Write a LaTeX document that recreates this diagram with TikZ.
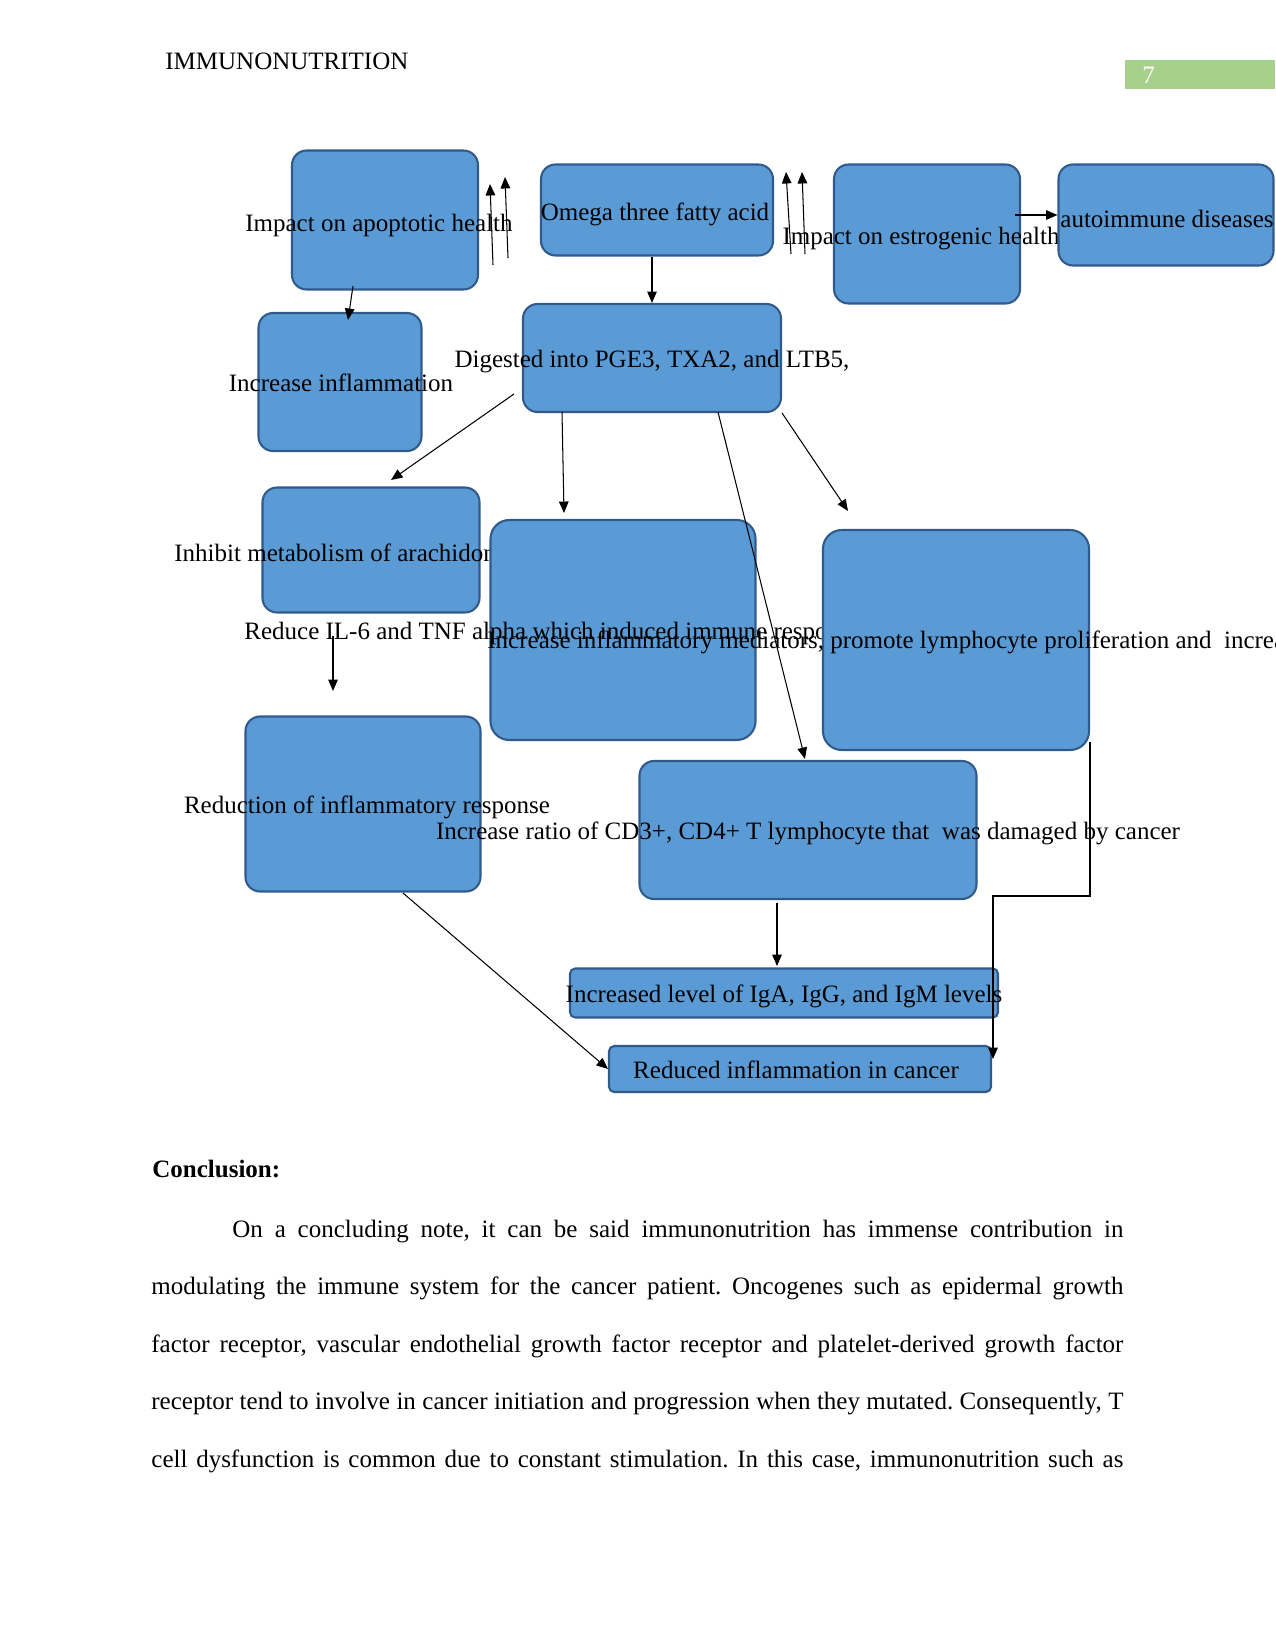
\documentclass[tikz,border=0pt]{standalone}
\usepackage{fontspec}
\setmainfont{Liberation Serif}
\usetikzlibrary{arrows.meta}
\frenchspacing

\newlength\px
\setlength\px{0.48pt}
\definecolor{boxfill}{RGB}{91,155,213}
\definecolor{boxline}{RGB}{49,90,140}
\definecolor{pagegreen}{RGB}{168,208,141}

\tikzset{
  blk/.style={draw=boxline, fill=boxfill, line width=1pt, rounded corners=7pt, inner sep=0pt},
  lbl/.style={font=\fontsize{12pt}{14pt}\selectfont, inner sep=0pt},
  conn/.style={-{Triangle[length=5.5pt,width=4.6pt]}, line width=0.5pt},
  bodyline/.style={font=\fontsize{12pt}{14pt}\selectfont, inner sep=0pt, anchor=base west}
}

\begin{document}
\begin{tikzpicture}[x=0.48pt, y=-0.48pt]
  \useasboundingbox (0,0) rectangle (1275,1651);
  \clip (0,0) rectangle (1275,1651);

  % running head
  \node[bodyline] (head) at (165,70) {IMMUNONUTRITION};
  \node[fill=pagegreen, inner sep=0pt, minimum width=150\px, minimum height=29\px, anchor=north west] (pagebox) at (1125,60) {};
  \node[bodyline, text=white] (pageno) at (1142,84) {7};

  % boxes and their texts
  \node[blk, minimum width=186\px, minimum height=139\px] (apopt) at (385,220) {};
  \node[lbl] (apopt-t) at (379,225) {Impact on apoptotic health};
  \node[blk, minimum width=232\px, minimum height=91\px] (omega) at (657,210) {};
  \node[lbl] (omega-t) at (655,214) {Omega three fatty acid};
  \node[blk, minimum width=186\px, minimum height=139\px] (estro) at (927,234) {};
  \node[lbl] (estro-t) at (921,239) {Impact on estrogenic health};
  \node[blk, minimum width=215\px, minimum height=101\px] (autoim) at (1166,215) {};
  \node[lbl] (autoim-t) at (1167,219) {autoimmune diseases};
  \node[blk, minimum width=163\px, minimum height=138\px] (inflam) at (340,382) {};
  \node[lbl] (inflam-t) at (341,383) {Increase inflammation};
  \node[blk, minimum width=258\px, minimum height=108\px] (digest) at (652,358) {};
  \node[lbl] (digest-t) at (652,362) {Digested into PGE3, TXA2, and LTB5,};
  \node[blk, minimum width=217\px, minimum height=125\px] (inhib) at (371,550) {};
  \node[lbl, anchor=west] (inhib-t) at (174,553) {Inhibit metabolism of arachidonic acid};
  \node[blk, rounded corners=9pt, minimum width=265\px, minimum height=220\px] (reduce) at (623,630) {};
  \node[lbl, anchor=west] (reduce-t) at (244,633) {Reduce IL-6 and TNF alpha which induced immune response};
  \node[blk, rounded corners=9pt, minimum width=266\px, minimum height=220\px] (mediat) at (956,640) {};
  \node[lbl, anchor=west] (mediat-t) at (487,642) {Increase inflammatory mediators, promote lymphocyte proliferation and\ \ increase};
  \node[blk, minimum width=235\px, minimum height=175\px] (respon) at (363,804) {};
  \node[lbl] (respon-t) at (367,807) {Reduction of inflammatory response};
  \node[blk, minimum width=337\px, minimum height=138\px] (ratio) at (808,830) {};
  \node[lbl] (ratio-t) at (808,833) {Increase ratio of CD3+, CD4+ T lymphocyte that\ \ was damaged by cancer};
  \node[blk, rounded corners=2.5pt, minimum width=428\px, minimum height=49\px] (igs) at (784,993) {};
  \node[lbl] (igs-t) at (784,996) {Increased level of IgA, IgG, and IgM levels};
  \node[blk, rounded corners=2.5pt, minimum width=382\px, minimum height=46\px] (cancer) at (800,1069) {};
  \node[lbl] (cancer-t) at (796,1070) {Reduced inflammation in cancer};

  % free ends of the connectors
  \coordinate (up1s) at (493,265);  \coordinate (up1e) at (490,184);
  \coordinate (up2s) at (508,258);  \coordinate (up2e) at (505,177);
  \coordinate (up3s) at (791,254);  \coordinate (up3e) at (786,172);
  \coordinate (up4s) at (805,254);  \coordinate (up4e) at (802,172);
  \coordinate (cds) at (1015,215);
  \coordinate (aes) at (353,286);   \coordinate (aee) at (348,320);
  \coordinate (fgs) at (514,394);   \coordinate (fge) at (391,480);
  \coordinate (fhs) at (562,412);   \coordinate (fhe) at (564,513);
  \coordinate (fks) at (718,412);   \coordinate (fke) at (805,759);
  \coordinate (fie) at (848,511);
  \coordinate (gjs) at (333,636);   \coordinate (gje) at (333,691);
  \coordinate (elbs) at (1090,742); \coordinate (elbm) at (993,896); \coordinate (elbe) at (993,1059);
  \coordinate (kls) at (777,903);   \coordinate (kle) at (777,966);
  \coordinate (jms) at (403,893);

  % connectors
  \draw[conn] (up1s) -- (up1e);
  \draw[conn] (up2s) -- (up2e);
  \draw[conn] (up3s) -- (up3e);
  \draw[conn] (up4s) -- (up4e);
  \draw[conn] (cds) -- (autoim.west);
  \draw[conn] (aes) -- (aee);
  \draw[conn] (digest.north |- omega.south) -- (digest.north);
  \draw[conn] (fgs) -- (fge);
  \draw[conn] (fhs) -- (fhe);
  \draw[conn] (fks) -- (fke);
  \draw[conn] (digest.south east) -- (fie);
  \draw[conn] (gjs) -- (gje);
  \draw[conn] (elbs) |- (elbm) -- (elbe);
  \draw[conn] (kls) -- (kle);
  \draw[conn] (jms) -- (cancer.west);

  % body text
  \node[bodyline, font=\fontsize{12pt}{14pt}\selectfont\bfseries] (concl) at (152,1177) {Conclusion:};
  \node[bodyline] (line1) at (232,1237) {\makebox[891\px][s]{On a concluding note, it can be said immunonutrition has immense contribution in}};
  \node[bodyline] (line2) at (151,1294) {\makebox[972\px][s]{modulating the immune system for the cancer patient. Oncogenes such as epidermal growth}};
  \node[bodyline] (line3) at (151,1352) {\makebox[972\px][s]{factor receptor, vascular endothelial growth factor receptor and platelet-derived growth factor}};
  \node[bodyline] (line4) at (151,1409) {\makebox[972\px][s]{receptor tend to involve in cancer initiation and progression when they mutated. Consequently, T}};
  \node[bodyline] (line5) at (151,1467) {\makebox[972\px][s]{cell dysfunction is common due to constant stimulation. In this case, immunonutrition such as}};
\end{tikzpicture}
\end{document}
